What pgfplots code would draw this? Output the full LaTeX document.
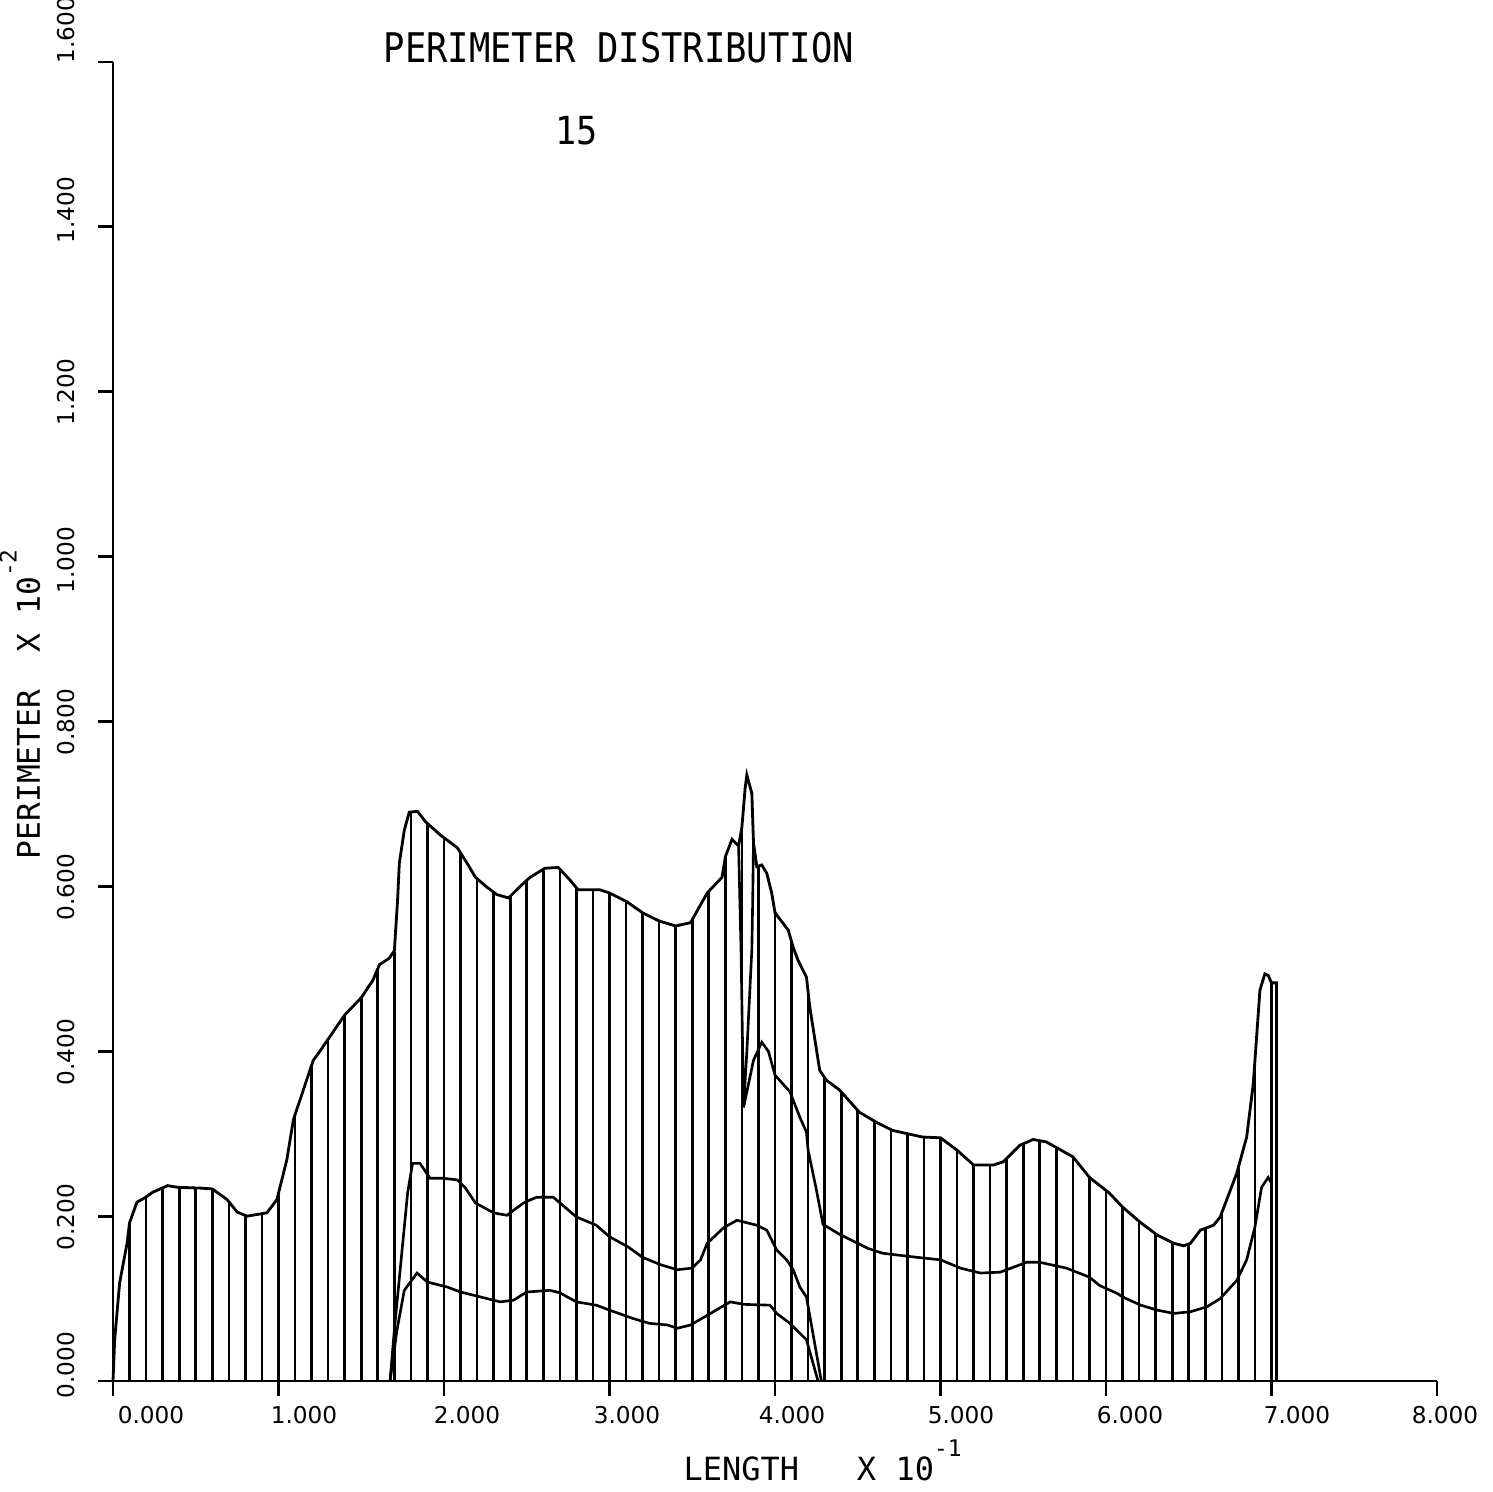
\documentclass[border=0pt]{standalone}
\usepackage{pgfplots}
\pgfplotsset{compat=1.18}
\usepackage{fontspec}
\setmainfont{DejaVu Sans}
\newfontfamily\mono{DejaVu Sans Mono}

\pgfplotstableread{
x y
0 0
0.01 0.05
0.04 0.119
0.085 0.167
0.10 0.192
0.145 0.217
0.19 0.222
0.24 0.229
0.33 0.237
0.39 0.235
0.53 0.234
0.60 0.233
0.69 0.22
0.75 0.205
0.81 0.20
0.93 0.204
0.99 0.22
1.05 0.268
1.09 0.317
1.13 0.341
1.21 0.389
1.25 0.40
1.40 0.444
1.50 0.465
1.57 0.486
1.61 0.505
1.67 0.513
1.70 0.522
1.72 0.585
1.73 0.628
1.76 0.668
1.79 0.69
1.84 0.691
1.89 0.678
1.98 0.662
2.08 0.647
2.14 0.628
2.19 0.611
2.26 0.599
2.32 0.59
2.39 0.586
2.46 0.60
2.52 0.611
2.61 0.622
2.69 0.623
2.76 0.608
2.81 0.596
2.94 0.596
3.00 0.592
3.10 0.582
3.20 0.568
3.30 0.558
3.40 0.552
3.49 0.556
3.59 0.592
3.68 0.611
3.70 0.636
3.74 0.657
3.78 0.649
3.80 0.672
3.82 0.72
3.83 0.735
3.86 0.713
3.87 0.653
3.89 0.624
3.92 0.626
3.95 0.616
3.98 0.592
4.00 0.568
4.08 0.547
4.11 0.526
4.14 0.51
4.19 0.49
4.21 0.454
4.27 0.377
4.31 0.365
4.39 0.353
4.51 0.326
4.62 0.313
4.71 0.304
4.89 0.296
5.00 0.295
5.10 0.280
5.20 0.262
5.32 0.262
5.38 0.266
5.48 0.286
5.56 0.293
5.64 0.29
5.80 0.272
5.90 0.247
6.02 0.228
6.10 0.211
6.21 0.192
6.31 0.177
6.41 0.167
6.47 0.164
6.51 0.167
6.57 0.183
6.65 0.189
6.69 0.199
6.79 0.252
6.85 0.296
6.89 0.361
6.93 0.474
6.96 0.494
6.98 0.492
7.00 0.483
7.03 0.483
7.03 0
}\envelope

\pgfplotstableread{
x y
0.1 0.192
0.2 0.224
0.3 0.234
0.4 0.235
0.5 0.234
0.6 0.233
0.7 0.218
0.8 0.201
0.9 0.203
1.0 0.228
1.1 0.323
1.2 0.383
1.3 0.415
1.4 0.444
1.5 0.465
1.6 0.50
1.7 0.52
1.8 0.69
1.9 0.676
2.0 0.659
2.1 0.641
2.2 0.609
2.3 0.593
2.4 0.588
2.5 0.607
2.6 0.621
2.7 0.621
2.8 0.598
2.9 0.596
3.0 0.592
3.1 0.582
3.2 0.568
3.3 0.558
3.4 0.552
3.5 0.56
3.6 0.594
3.7 0.636
3.8 0.672
3.9 0.625
4.0 0.568
4.1 0.533
4.2 0.472
4.3 0.368
4.4 0.351
4.5 0.328
4.6 0.315
4.7 0.305
4.8 0.30
4.9 0.296
5.0 0.295
5.1 0.280
5.2 0.262
5.3 0.262
5.4 0.27
5.5 0.288
5.6 0.291
5.7 0.283
5.8 0.272
5.9 0.247
6.0 0.231
6.1 0.211
6.2 0.194
6.3 0.179
6.4 0.168
6.5 0.166
6.6 0.185
6.7 0.204
6.8 0.259
6.9 0.39
7.0 0.483
}\hatch

\pgfplotstableread{
x y
1.674 0
1.70 0.062
1.78 0.228
1.81 0.264
1.855 0.264
1.915 0.246
1.99 0.246
2.08 0.244
2.13 0.234
2.19 0.216
2.30 0.204
2.38 0.201
2.48 0.216
2.56 0.223
2.66 0.223
2.80 0.199
2.92 0.189
3.00 0.175
3.11 0.163
3.20 0.150
3.31 0.141
3.41 0.135
3.50 0.137
3.55 0.147
3.59 0.167
3.69 0.186
3.77 0.195
3.89 0.189
3.95 0.183
4.01 0.159
4.07 0.147
4.11 0.135
4.15 0.114
4.19 0.102
4.28 0
}\curveB

\pgfplotstableread{
x y
1.674 0
1.716 0.062
1.76 0.11
1.837 0.131
1.90 0.120
2.02 0.114
2.10 0.108
2.24 0.101
2.34 0.096
2.42 0.098
2.50 0.108
2.64 0.110
2.70 0.107
2.80 0.096
2.92 0.092
3.00 0.086
3.14 0.076
3.24 0.070
3.35 0.068
3.41 0.064
3.49 0.068
3.61 0.082
3.73 0.096
3.81 0.093
3.97 0.092
4.01 0.082
4.09 0.070
4.19 0.050
4.26 0
}\curveC

\pgfplotstableread{
x y
3.81 0.332
3.87 0.389
3.92 0.411
3.96 0.40
4.00 0.371
4.09 0.351
4.15 0.32
4.19 0.302
4.20 0.28
4.25 0.232
4.29 0.19
4.39 0.178
4.56 0.161
4.65 0.155
4.86 0.150
5.00 0.147
5.12 0.137
5.24 0.131
5.36 0.132
5.52 0.144
5.60 0.144
5.76 0.137
5.90 0.126
5.96 0.116
6.07 0.106
6.10 0.102
6.21 0.092
6.31 0.086
6.41 0.082
6.51 0.084
6.61 0.090
6.69 0.10
6.79 0.122
6.85 0.147
6.90 0.187
6.94 0.235
6.98 0.247
7.00 0.24
}\curveE

\pgfplotstableread{
x y
3.78 0.649
3.795 0.52
3.81 0.332
3.83 0.40
3.86 0.523
3.865 0.58
3.87 0.653
}\curveV

\begin{document}
\begin{tikzpicture}[x=1cm,y=1cm]
\useasboundingbox (-1.13,-1.10) rectangle (13.80,13.81);
\begin{axis}[
  at={(0,0)}, anchor=south west,
  scale only axis, width=13.24cm, height=13.19cm,
  xmin=0, xmax=8, ymin=0, ymax=1.6,
  axis x line=bottom, axis y line=left,
  axis line style={-, line width=0.8pt, black},
  xtick={0,1,...,8}, ytick={0,0.2,...,1.6},
  xticklabels={}, yticklabels={},
  tick align=outside, major tick length=0.15cm,
  tick style={black, line width=0.8pt},
  clip=false,
]
\addplot[ycomb, black, line width=0.75pt, no markers] table {\hatch};
\addplot[black, line width=0.8pt, no markers] table {\envelope};
\addplot[black, line width=0.75pt, no markers] table {\curveB};
\addplot[black, line width=0.75pt, no markers] table {\curveC};
\addplot[black, line width=0.75pt, no markers] table {\curveE};
\addplot[black, line width=0.75pt, no markers] table {\curveV};
\end{axis}

% x tick labels
\begin{scope}[every node/.style={font=\fontsize{6.6}{7}\selectfont, inner sep=0pt}]
\node at (0.38,-0.34) {0.000};
\node at (1.91,-0.34) {1.000};
\node at (3.54,-0.34) {2.000};
\node at (5.14,-0.34) {3.000};
\node at (6.79,-0.34) {4.000};
\node at (8.48,-0.34) {5.000};
\node at (10.17,-0.34) {6.000};
\node at (11.84,-0.34) {7.000};
\node at (13.32,-0.34) {8.000};
% y tick labels
\node[rotate=90] at (-0.47,0.16) {0.000};
\node[rotate=90] at (-0.47,1.64) {0.200};
\node[rotate=90] at (-0.47,3.29) {0.400};
\node[rotate=90] at (-0.47,4.94) {0.600};
\node[rotate=90] at (-0.47,6.59) {0.800};
\node[rotate=90] at (-0.47,8.21) {1.000};
\node[rotate=90] at (-0.47,9.89) {1.200};
\node[rotate=90] at (-0.47,11.71) {1.400};
\node[rotate=90] at (-0.47,13.51) {1.600};
\end{scope}

% titles
\node[anchor=base west, inner sep=0pt, font=\mono\fontsize{10.1}{12}\selectfont] at (2.70,13.18) {\scalebox{1}[1.15]{PERIMETER DISTRIBUTION}};
\node[anchor=base west, inner sep=0pt, font=\mono\fontsize{10}{12}\selectfont] at (4.42,12.36) {\scalebox{1}[1.1]{15}};
% axis labels
\node[anchor=base west, inner sep=0pt, font=\mono\fontsize{9.1}{11}\selectfont] at (5.70,-0.99) {LENGTH~~~X~10\raisebox{0.75em}{\fontsize{6.5}{7}\selectfont -1}};
\node[rotate=90, anchor=base west, inner sep=0pt, font=\mono\fontsize{8.9}{11}\selectfont] at (-0.73,5.21) {PERIMETER~~X~10\raisebox{0.75em}{\fontsize{6.5}{7}\selectfont -2}};
\end{tikzpicture}
\end{document}
